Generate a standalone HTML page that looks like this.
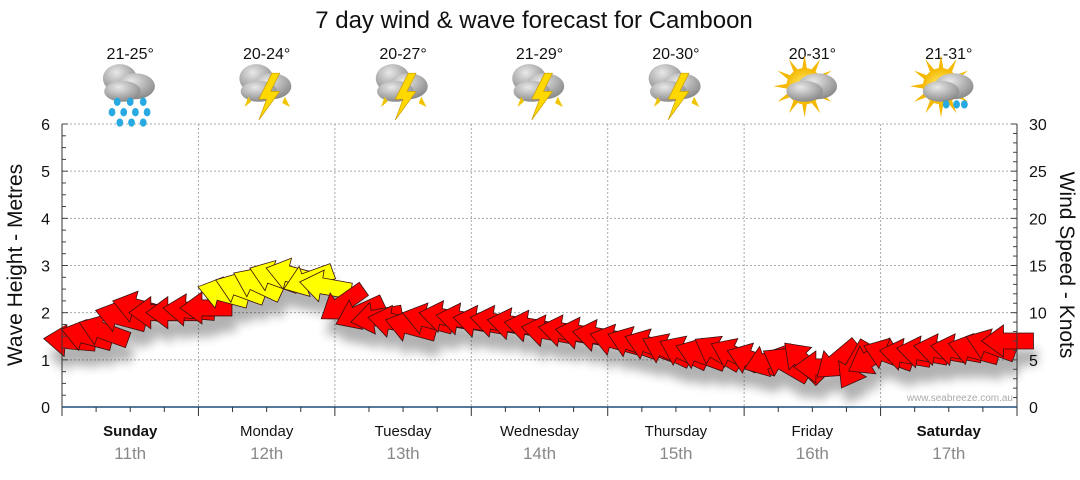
<!DOCTYPE html>
<html><head><meta charset="utf-8">
<style>
body{margin:0;background:#fff;font-family:"Liberation Sans",sans-serif;}
svg text{font-family:"Liberation Sans",sans-serif;}
</style></head>
<body>
<svg id="chart" width="1080" height="475" viewBox="0 0 1080 475" xmlns="http://www.w3.org/2000/svg">
<defs>
<filter id="sh" x="-50%" y="-50%" width="200%" height="200%"><feGaussianBlur stdDeviation="5"/></filter>
<radialGradient id="cloudG" cx="40%" cy="30%" r="70%"><stop offset="0" stop-color="#e8e8e8"/><stop offset="1" stop-color="#8a8a8a"/></radialGradient>
<radialGradient id="sunG" cx="50%" cy="50%" r="50%"><stop offset="0" stop-color="#fff27a"/><stop offset="1" stop-color="#f5b800"/></radialGradient>
</defs>
<text x="534" y="28" font-size="24" text-anchor="middle" fill="#111">7 day wind &amp; wave forecast for Camboon</text>
<g id="grid"></g>
<g id="icons"></g>
<g id="shadows" filter="url(#sh)" opacity="0.3"></g>
<g id="arrows"></g>
<g id="axes"></g>
<text x="1013" y="401" font-size="10" text-anchor="end" fill="#aaa">www.seabreeze.com.au</text>
<text transform="translate(22,265) rotate(-90)" font-size="21" text-anchor="middle" fill="#111">Wave Height - Metres</text>
<text transform="translate(1060,265) rotate(90)" font-size="21" text-anchor="middle" fill="#111">Wind Speed - Knots</text>
</svg>
<script>
const days = ["Sunday","Monday","Tuesday","Wednesday","Thursday","Friday","Saturday"];
const dates = ["11th","12th","13th","14th","15th","16th","17th"];
const boldDays = [true,false,false,false,false,false,true];
const temps = ["21-25°","20-24°","20-27°","21-29°","20-30°","20-31°","21-31°"];
const weather = ["rain","storm","storm","storm","storm","sun","sunrain"];
const leftTicks = [0,1,2,3,4,5,6];
const rightTicks = [0,5,10,15,20,25,30];
// 3-hourly wave heights (m)
const waveHeights = [1.4,1.5,1.6,1.9,2.1,2.0,2.0,2.05,
 2.1,2.4,2.5,2.6,2.75,2.8,2.7,2.55,
 2.2,2.0,1.9,1.8,1.7,1.85,1.9,1.85,
 1.8,1.8,1.75,1.7,1.6,1.6,1.55,1.5,
 1.4,1.35,1.3,1.2,1.15,1.1,1.15,1.1,
 1.0,1.0,0.9,0.95,0.85,1.0,0.9,1.05,
 1.1,1.1,1.15,1.2,1.2,1.2,1.3,1.4];
// 3-hourly wind speed (knots)
const windSpeeds = [9,9,10,11,11,11,11,11,
 11,13,14,14,15,15,14,13,
 11,10,10,10,10,10,10,10,
 10,10,10,10,9,9,9,9,
 8,8,8,8,8,8,8,8,
 7,7,7,7,7,7,7,7,
 7,7,7,8,8,8,9,9];
// arrow rotation in degrees (0 = pointing left, positive = clockwise)
const windAngles = [5,15,20,15,15,0,0,5,
 0,15,20,25,20,15,-20,10,
 -35,-25,-10,10,15,15,10,10,
 10,10,10,10,10,10,10,10,
 15,20,20,25,25,20,30,25,
 20,-20,30,45,0,-40,-60,-30,
 20,10,10,10,10,15,20,0];

const X0=62, X1=1017, Y0=407, Y1=124;
const dayW=(X1-X0)/7;
const xScale = t => X0 + t*dayW;           // t in days
const yL = v => Y0 - v/6*(Y0-Y1);
const yR = v => Y0 - v/30*(Y0-Y1);
const NS="http://www.w3.org/2000/svg";
function mk(tag, attrs, parent){const e=document.createElementNS(NS,tag);for(const k in attrs)e.setAttribute(k,attrs[k]);parent.appendChild(e);return e;}
const grid=document.getElementById('grid'), axes=document.getElementById('axes'), icons=document.getElementById('icons');

leftTicks.forEach(v=>{
  if(v>0){const l=mk('line',{x1:X0,x2:X1,y1:yL(v),y2:yL(v),stroke:'#aaa','stroke-dasharray':'2,2'},grid);
  
  }
  const t=mk('text',{x:X0-12,y:yL(v)+6,'font-size':16,'text-anchor':'end',fill:'#111'},axes);t.textContent=v;
  
  
});
rightTicks.forEach(v=>{
  const t=mk('text',{x:X1+12,y:yR(v)+6,'font-size':16,'text-anchor':'start',fill:'#111'},axes);t.textContent=v;
  
  
});
for(let i=0;i<=24;i++){const y=yL(i/4);const w=(i%4==0)?6:4;
  mk('line',{x1:X0,x2:X0+w,y1:y,y2:y,stroke:'#444'},axes);
}
for(let i=0;i<=30;i++){const y=yR(i);const w=(i%5==0)?6:4;
  mk('line',{x1:X1-w,x2:X1,y1:y,y2:y,stroke:'#444'},axes);
}
mk('line',{x1:X0,x2:X0,y1:Y1,y2:Y0,stroke:'#333'},axes);
mk('line',{x1:X1,x2:X1,y1:Y1,y2:Y0,stroke:'#333'},axes);
mk('line',{x1:X0,x2:X1,y1:Y0,y2:Y0,stroke:'#1d4f7a','stroke-width':1.5},axes);
for(let d=1;d<7;d++){const l=mk('line',{x1:xScale(d),x2:xScale(d),y1:Y1,y2:Y0,stroke:'#aaa','stroke-dasharray':'2,2'},grid);
  
  }
for(let q=0;q<=28;q++){const x=xScale(q/4);mk('line',{x1:x,x2:x,y1:Y0,y2:Y0+(q%4==0?9:5),stroke:'#333'},axes);}

days.forEach((d,i)=>{
  const cx=xScale(i+0.5);
  const t=mk('text',{x:cx,y:436,'font-size':15,'text-anchor':'middle',fill:'#111','font-weight':boldDays[i]?'bold':'normal'},axes);t.textContent=d;
  
  
  const t2=mk('text',{x:cx,y:459,'font-size':17,'text-anchor':'middle',fill:'#888'},axes);t2.textContent=dates[i];
  
  
  const tt=mk('text',{x:cx,y:59,'font-size':16,'text-anchor':'middle',fill:'#111'},icons);tt.textContent=temps[i];
  
  
  const g=mk('g',{transform:`translate(${cx},94) scale(1.3)`},icons);
  
  
  const w=weather[i];
  if(w=='sun'||w=='sunrain'){
    for(let k=0;k<12;k++){const a=k*Math.PI/6;mk('polygon',{points:`${Math.cos(a-0.15)*13},${Math.sin(a-0.15)*13} ${Math.cos(a)*24},${Math.sin(a)*24} ${Math.cos(a+0.15)*13},${Math.sin(a+0.15)*13}`,fill:'#f5b800',transform:'translate(-6,-6)'},g);}
    mk('circle',{cx:-6,cy:-6,r:14,fill:'url(#sunG)'},g);
  }
  if(w=='rain'||w=='storm'){
    mk('ellipse',{cx:-8,cy:-12,rx:13,ry:11,fill:'url(#cloudG)'},g);
  }
  mk('ellipse',{cx:4,cy:-6,rx:15,ry:10,fill:'url(#cloudG)'},g);
  mk('ellipse',{cx:-6,cy:-2,rx:14,ry:8,fill:'url(#cloudG)'},g);
  if(w=='rain'||w=='sunrain'){
    const drops=w=='rain'?[[-10,6],[0,6],[10,6],[-14,14],[-5,14],[4,14],[13,14],[-8,22],[1,22],[10,22]]:[[-2,8],[6,8],[12,8]];
    drops.forEach(p=>mk('ellipse',{cx:p[0],cy:p[1],rx:2.6,ry:3.2,fill:'#27a9e1'},g));
  }
  if(w=='storm'){
    mk('polygon',{points:'4,-16 -6,4 0,4 -6,20 10,-2 3,-2 10,-16',fill:'#ffd800',stroke:'#c89a00','stroke-width':0.5},g);
    mk('polygon',{points:'-14,2 -17,10 -12,6',fill:'#f0c400'},g);
    mk('polygon',{points:'14,2 18,10 12,7',fill:'#f0c400'},g);
  }
});

const arrowPts='-27,0 -5,-16 -5,-8 25,-8 25,8 -5,8 -5,16';
const sh=document.getElementById('shadows'), ar=document.getElementById('arrows');
waveHeights.forEach((h,i)=>{
  const x=xScale(i/8+1/16), y=yL(h);
  mk('polygon',{points:arrowPts,fill:'#000',transform:`translate(${x+4},${y+16}) rotate(${windAngles[i]})`},sh);
  const p=mk('polygon',{points:arrowPts,fill:windSpeeds[i]>=12.5?'#ffff00':'#ff0000',stroke:'#3a1010','stroke-width':0.8,transform:`translate(${x},${y}) rotate(${windAngles[i]})`},ar);
  
  
});
</script>
</body></html>
